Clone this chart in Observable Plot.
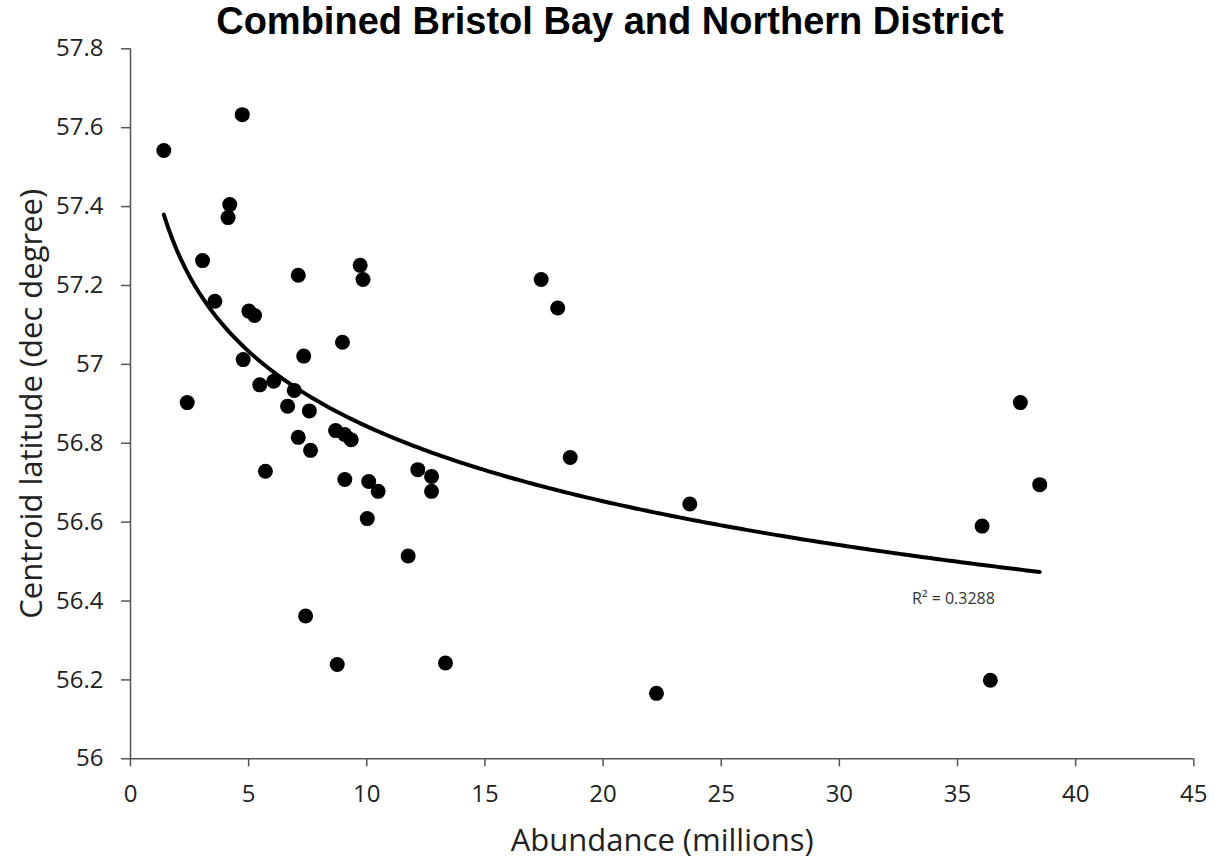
<!DOCTYPE html>
<html>
<head>
<meta charset="utf-8">
<script src="https://cdn.jsdelivr.net/npm/d3@7"></script>
<script src="https://cdn.jsdelivr.net/npm/@observablehq/plot@0.6"></script>
<style>
  html, body { margin: 0; padding: 0; background: #fff; }
  #wrap { position: relative; width: 1220px; height: 864px; }
  #chart svg { display: block; }
  #title {
    position: absolute; top: 0; left: 0; width: 1220px; height: 43px;
    text-align: center; font-family: 'Liberation Sans', Arial, sans-serif; font-weight: bold;
    font-size: 38px; line-height: 43px; color: #000; white-space: nowrap;
  }
</style>
</head>
<body>
<div id="wrap">
  <div id="chart"></div>
  <div id="title"></div>
</div>
<script>
// Abundance (millions) and centroid latitude (decimal degrees)
const abundance = [
  1.41, 4.73, 4.20, 4.13, 3.05, 3.57, 2.40, 5.01, 5.25, 4.77,
  5.47, 6.06, 5.71, 7.10, 7.33, 6.93, 6.65, 7.57, 7.10, 7.62,
  7.41, 8.97, 9.72, 9.84, 8.68, 9.06, 9.34, 9.07, 10.08, 10.48,
  10.02, 8.75, 11.75, 12.16, 12.74, 12.74, 13.33, 17.38, 18.08, 18.61,
  22.26, 23.67, 36.04, 37.66, 36.39, 38.48
];
const latitude = [
  57.542, 57.633, 57.405, 57.372, 57.263, 57.160, 56.903, 57.135, 57.124, 57.012,
  56.948, 56.957, 56.729, 57.226, 57.021, 56.934, 56.894, 56.882, 56.815, 56.782,
  56.362, 57.056, 57.251, 57.215, 56.832, 56.822, 56.809, 56.708, 56.703, 56.678,
  56.609, 56.239, 56.514, 56.733, 56.716, 56.678, 56.243, 57.215, 57.143, 56.764,
  56.166, 56.646, 56.590, 56.903, 56.199, 56.695
];
const xTicks = [0, 5, 10, 15, 20, 25, 30, 35, 40, 45];
const yTicks = [56, 56.2, 56.4, 56.6, 56.8, 57, 57.2, 57.4, 57.6, 57.8];
const titleText = "Combined Bristol Bay and Northern District";
const xLabel = "Abundance (millions)";
const yLabel = "Centroid latitude (dec degree)";
const r2Text = "R² = 0.3288";
const r2Pos = {x: 34.83, y: 56.406};

const data = abundance.map((a, i) => ({x: a, y: latitude[i]}));

// Logarithmic least-squares fit y = a + b ln(x), as Excel's trendline
const lx = abundance.map(Math.log);
const mx = d3.mean(lx), my = d3.mean(latitude);
const b = d3.sum(lx, (v, i) => (v - mx) * (latitude[i] - my)) / d3.sum(lx, v => (v - mx) ** 2);
const a = my - b * mx;
const [x0, x1] = d3.extent(abundance);
const fit = d3.range(0, 201).map(k => {
  const x = x0 + (x1 - x0) * k / 200;
  return {x, y: a + b * Math.log(x)};
});

const axisColor = "#555";
const textColor = "#222";
const W = 1220, H = 864, ML = 130, MR = 26.7, MT = 48.3, MB = 105.7;

const chart = Plot.plot({
  width: W,
  height: H,
  marginLeft: ML,
  marginRight: MR,
  marginTop: MT,
  marginBottom: MB,
  style: {fontFamily: "'Open Sans', sans-serif", fontSize: "24px", color: textColor, background: "#fff"},
  x: {domain: [0, 45]},
  y: {domain: [56, 57.8]},
  marks: [
    Plot.ruleY([56], {stroke: axisColor, strokeWidth: 1.5}),
    Plot.ruleX([0], {stroke: axisColor, strokeWidth: 1.5}),
    Plot.axisX({ticks: xTicks, tickSize: 8, tickPadding: 18, stroke: axisColor, strokeWidth: 1.5, label: null, tickFormat: d => String(d), fill: textColor}),
    Plot.axisY({ticks: yTicks, tickSize: 9, tickPadding: 18, stroke: axisColor, strokeWidth: 1.5, label: null, tickFormat: d => String(d), fill: textColor}),
    Plot.dot(data, {x: "x", y: "y", r: 7.5, fill: "#000", stroke: null}),
    Plot.line(fit, {x: "x", y: "y", stroke: "#000", strokeWidth: 4, curve: "linear"}),
    Plot.text([r2Text], {x: () => r2Pos.x, y: () => r2Pos.y, fontSize: 16, fill: "#333", textAnchor: "middle"}),
    Plot.text([xLabel], {frameAnchor: "bottom", dy: 82, fontSize: 31, fill: textColor, lineAnchor: "middle", textAnchor: "middle"}),
    Plot.text([yLabel], {frameAnchor: "left", dx: -98, rotate: -90, fontSize: 31, fill: textColor, lineAnchor: "middle", textAnchor: "middle"})
  ]
});
document.getElementById("chart").appendChild(chart);
document.getElementById("title").textContent = titleText;
</script>
</body>
</html>
